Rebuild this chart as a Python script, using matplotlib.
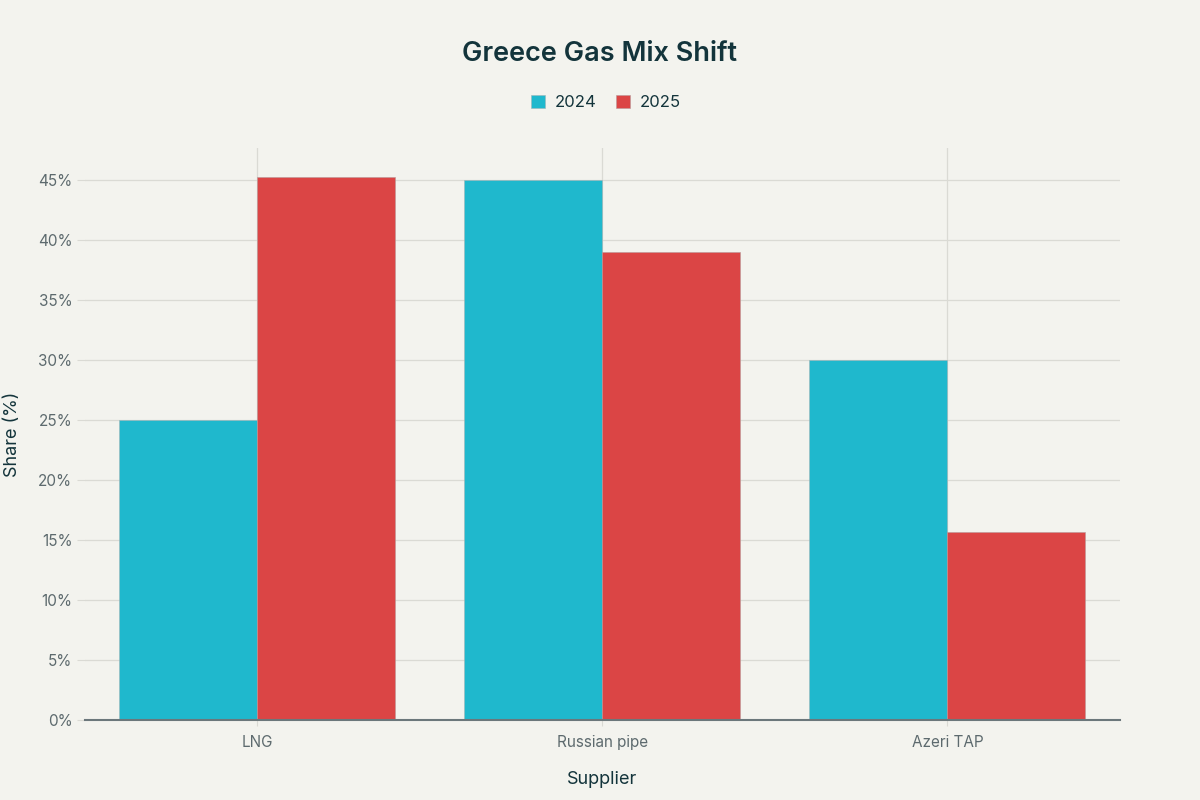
import matplotlib
matplotlib.use("Agg")
import matplotlib.pyplot as plt
import numpy as np
from matplotlib.ticker import FuncFormatter, MultipleLocator

suppliers = ["LNG", "Russian pipe", "Azeri TAP"]
years = ["2024", "2025"]
share_2024 = [25, 45, 30]
share_2025 = [45.3, 39.0, 15.7]

BG = "#F3F3EE"
C24 = "#1FB8CD"
C25 = "#DB4545"
DARK = "#13343B"
GRAY = "#5D6A6E"

plt.rcParams['font.family'] = ['Inter', 'DejaVu Sans']

fig = plt.figure(figsize=(12, 8), dpi=100, facecolor=BG)
ax = fig.add_axes([0.0708, 0.1, 0.8625, 0.715], facecolor=BG)

x = np.arange(len(suppliers))
w = 0.4
ax.bar(x - w/2, share_2024, width=w, color=C24, label=years[0], edgecolor="#9fb5b8", linewidth=0.4, zorder=3)
ax.bar(x + w/2, share_2025, width=w, color=C25, label=years[1], edgecolor="#b89a9a", linewidth=0.4, zorder=3)

ax.set_xlim(-0.5, len(suppliers) - 0.5)
ax.set_ylim(0, 47.7)
ax.yaxis.set_major_locator(MultipleLocator(5))
ax.yaxis.set_major_formatter(FuncFormatter(lambda v, p: f"{int(v)}%"))
ax.set_xticks(x)
ax.set_xticklabels(suppliers)

ax.grid(True, color="#DADAD4", linewidth=0.9, zorder=0)
for s in ["top", "right", "left"]:
    ax.spines[s].set_visible(False)
ax.spines["bottom"].set_color("#6B777B")
ax.spines["bottom"].set_linewidth(1.5)
ax.spines["bottom"].set_zorder(4)

ax.tick_params(axis="y", length=6, color="#DADAD4", labelsize=11, labelcolor=GRAY, pad=3)
ax.tick_params(axis="x", length=4, color="#DADAD4", labelsize=11, labelcolor=GRAY, pad=7)

ax.set_ylabel("Share (%)", fontsize=13, color=DARK, labelpad=12)
ax.set_xlabel("Supplier", fontsize=13, color=DARK, labelpad=15)

fig.text(0.5, 0.933, "Greece Gas Mix Shift", ha="center", va="center",
         fontsize=19.5, fontweight="semibold", color=DARK)

leg = fig.legend(loc="center", bbox_to_anchor=(0.505, 0.872), ncol=2, frameon=False,
                 fontsize=12, handlelength=0.8, handleheight=0.8, columnspacing=1.2,
                 handletextpad=0.6, labelcolor=DARK)

fig.savefig("out.png", dpi=100, facecolor=BG)
